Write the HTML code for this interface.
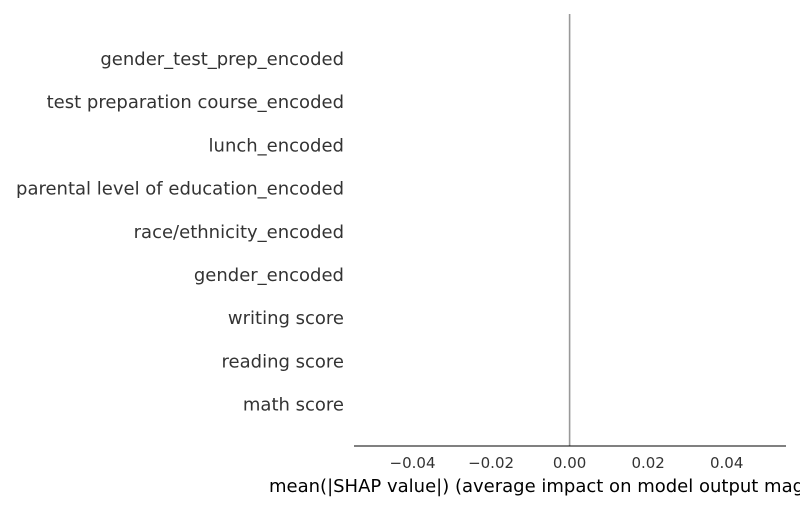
<!DOCTYPE html>
<html><head><meta charset="utf-8"><style>
html,body{margin:0;padding:0;background:#fff;width:800px;height:509px;overflow:hidden}
svg text{font-family:"DejaVu Sans","Liberation Sans",sans-serif}
</style></head><body>
<svg id="chart" width="800" height="509" viewBox="0 0 800 509" xmlns="http://www.w3.org/2000/svg"></svg>
<script>
const features = ["gender_test_prep_encoded","test preparation course_encoded","lunch_encoded","parental level of education_encoded","race/ethnicity_encoded","gender_encoded","writing score","reading score","math score"];
const values = [0,0,0,0,0,0,0,0,0];
const ticks = [-0.04,-0.02,0.00,0.02,0.04];
const tickLabels = ["\u22120.04","\u22120.02","0.00","0.02","0.04"];

const NS="http://www.w3.org/2000/svg";
const svg=document.getElementById('chart');
const x0=354,x1=786,dMin=-0.0549,dMax=0.0551;
const xs=v=>x0+(v-dMin)/(dMax-dMin)*(x1-x0);
const ys=i=>60+i*43.2;
function mk(t,a,p){const e=document.createElementNS(NS,t);for(const k in a)e.setAttribute(k,a[k]);(p||svg).appendChild(e);return e;}

features.forEach((f,i)=>{
  const t=mk('text',{x:344,y:ys(i)+5,'text-anchor':'end','font-size':18,fill:'#333'});
  
  
  t.textContent=f;
  const v=values[i];
  const r=mk('rect',{x:Math.min(xs(0),xs(v)),y:ys(i)-15,width:Math.abs(xs(v)-xs(0)),height:30,fill:'#008bfb'});
  
  
});

const zl=mk('line',{x1:xs(0),x2:xs(0),y1:14,y2:446,stroke:'#999','stroke-width':1.6});



const ax=mk('line',{x1:x0,x2:x1,y1:446,y2:446,stroke:'#000','stroke-width':1});



ticks.forEach((v,i)=>{
  const t=mk('text',{x:xs(v),y:468,'text-anchor':'middle','font-size':15,fill:'#333'});
  
  
  t.textContent=tickLabels[i];
});

const title=mk('text',{x:269,y:492,'font-size':18,fill:'#000'});


title.textContent="mean(|SHAP value|) (average impact on model output magnitude)";
</script>
</body></html>
